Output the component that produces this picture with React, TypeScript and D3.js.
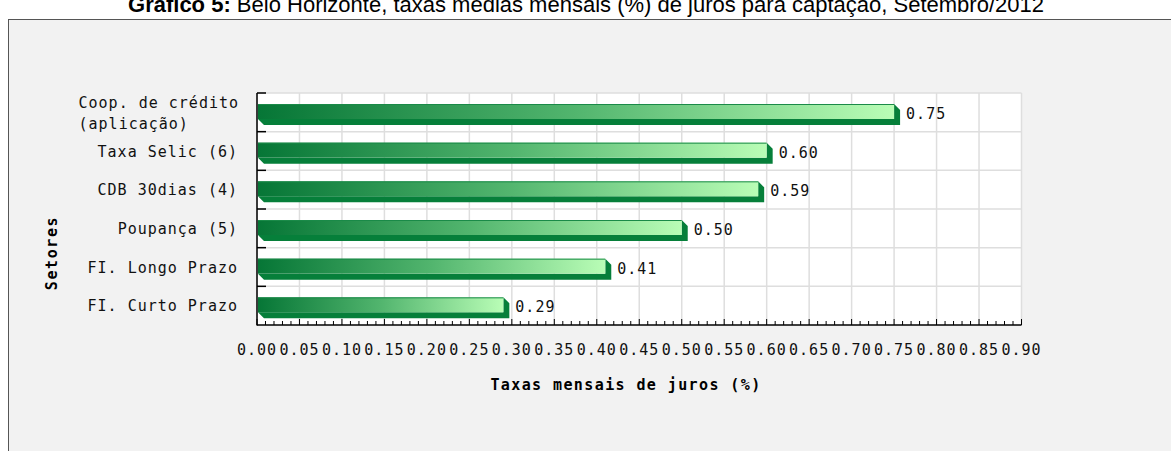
import React from 'react';
import * as d3 from 'd3';

const categories = ['Coop. de crédito|(aplicação)', 'Taxa Selic (6)', 'CDB 30dias (4)', 'Poupança (5)', 'FI. Longo Prazo', 'FI. Curto Prazo'];
const values = [0.75, 0.6, 0.59, 0.5, 0.41, 0.29];
const tickValues = [0, 0.05, 0.1, 0.15, 0.2, 0.25, 0.3, 0.35, 0.4, 0.45, 0.5, 0.55, 0.6, 0.65, 0.7, 0.75, 0.8, 0.85, 0.9];
const minorTicks = d3.range(0, 91).map((d) => d / 100);
const title = 'Belo Horizonte, taxas médias mensais (%) de juros para captação, Setembro/2012';
const titleBold = 'Gráfico 5:';
const xTitle = 'Taxas mensais de juros (%)';
const yTitle = 'Setores';

const W = 1171;
const H = 451;
const mono = '"DejaVu Sans Mono", monospace';

export default function App() {
  const x = d3.scaleLinear().domain([0, 0.9]).range([257, 1021.5]);
  const y = d3.scaleBand<string>().domain(categories).range([93, 325]).paddingInner(0);
  const bw = y.bandwidth();
  const depth = 6;
  const faceH = 15;
  const faceOff = 11;
  const x0 = x(0);
  const charW = 15 * 0.602 + 1;
  return (
    <svg width={W} height={H} style={{ position: 'absolute', left: 0, top: 0, background: '#fff' }}>
      <defs>
        <linearGradient id="barGrad" x1="0" x2="1" y1="0" y2="0">
          <stop offset="0%" stopColor="#067636" />
          <stop offset="50%" stopColor="#52b56e" />
          <stop offset="100%" stopColor="#b9fdb6" />
        </linearGradient>
      </defs>
      <text x={586} y={12} textAnchor="middle" fontFamily='"Liberation Sans", Arial, sans-serif' fontSize={22} fill="#000">
        <tspan fontWeight="bold">{titleBold}</tspan> {title}
      </text>
      <rect x={8.5} y={19.5} width={W} height={H} fill="#f2f2f2" stroke="#555" strokeWidth={1} />
      {/* plot area */}
      <rect x={x0} y={93} width={x(0.9) - x0} height={325 - 93} fill="#fff" />
      {tickValues.map((t) => (
        <line key={'g' + t} x1={x(t)} x2={x(t)} y1={93} y2={325} stroke="#dedede" strokeWidth={1.5} />
      ))}
      {categories.map((c) => (
        <line key={'h' + c} x1={x0} x2={x(0.9)} y1={y(c)!} y2={y(c)!} stroke="#dedede" strokeWidth={1.5} />
      ))}
      {/* bars */}
      {categories.map((c, i) => {
        const v = values[i];
        const top = y(c)! + faceOff;
        const bot = top + faceH;
        const x1 = x(v);
        const bx = x0 + 1;
        const pts = [
          [x1, top],
          [x1 + depth, top + depth],
          [x1 + depth, bot + depth],
          [bx + depth, bot + depth],
          [bx, bot],
          [x1, bot],
        ];
        return (
          <g key={'b' + c}>
            <polygon points={pts.map((p) => p.join(',')).join(' ')} fill="#067f3a" />
            <rect x={bx} y={top} width={x1 - bx} height={faceH} fill="url(#barGrad)" />
            <line x1={bx} x2={x1} y1={top + 0.5} y2={top + 0.5} stroke="#1a8a48" strokeWidth={1} />
            <text x={x1 + depth + 6} y={top + faceH / 2 + 3} dominantBaseline="middle" fontFamily={mono} fontSize={15} letterSpacing={1} fill="#111">
              {v.toFixed(2)}
            </text>
          </g>
        );
      })}
      {/* axes */}
      <line x1={x0} x2={x0} y1={93} y2={325.5} stroke="#000" strokeWidth={1.5} />
      <line x1={x0} x2={x(0.9)} y1={325} y2={325} stroke="#000" strokeWidth={1.5} />
      {categories.map((c) => (
        <line key={'ct' + c} x1={x0} x2={x0 + 9} y1={y(c)!} y2={y(c)!} stroke="#000" strokeWidth={1.5} />
      ))}
      {minorTicks.map((t, i) => (
        <line key={'mt' + i} x1={x(t)} x2={x(t)} y1={325} y2={i % 5 === 0 ? 319 : 321} stroke="#000" strokeWidth={1} />
      ))}
      {tickValues.map((t, i) => (
        <text key={'tl' + i} x={x(t)} y={350} textAnchor="middle" dominantBaseline="middle" fontFamily={mono} fontSize={15} letterSpacing={1} fill="#111">
          {t.toFixed(2)}
        </text>
      ))}
      {categories.map((c) => {
        const lines = c.split('|');
        const cy = y(c)! + bw / 2 + 1;
        if (lines.length === 1) {
          return (
            <text key={'cl' + c} x={238} y={cy} textAnchor="end" dominantBaseline="middle" fontFamily={mono} fontSize={15} letterSpacing={1} fill="#111">
              {c}
            </text>
          );
        }
        const maxLen = Math.max(...lines.map((l) => l.length));
        const left = 238 - maxLen * charW + 1;
        return (
          <g key={'cl' + c}>
            {lines.map((l, k) => (
              <text key={k} x={left} y={cy - 10 + k * 21} textAnchor="start" dominantBaseline="middle" fontFamily={mono} fontSize={15} letterSpacing={1} fill="#111">
                {l}
              </text>
            ))}
          </g>
        );
      })}
      <text x={626} y={385} textAnchor="middle" dominantBaseline="middle" fontFamily={mono} fontWeight="bold" fontSize={15} letterSpacing={1.4} fill="#000">
        {xTitle}
      </text>
      <text transform={`translate(52,253) rotate(-90)`} textAnchor="middle" dominantBaseline="middle" fontFamily={mono} fontWeight="bold" fontSize={15} letterSpacing={1.6} fill="#000">
        {yTitle}
      </text>
    </svg>
  );
}
